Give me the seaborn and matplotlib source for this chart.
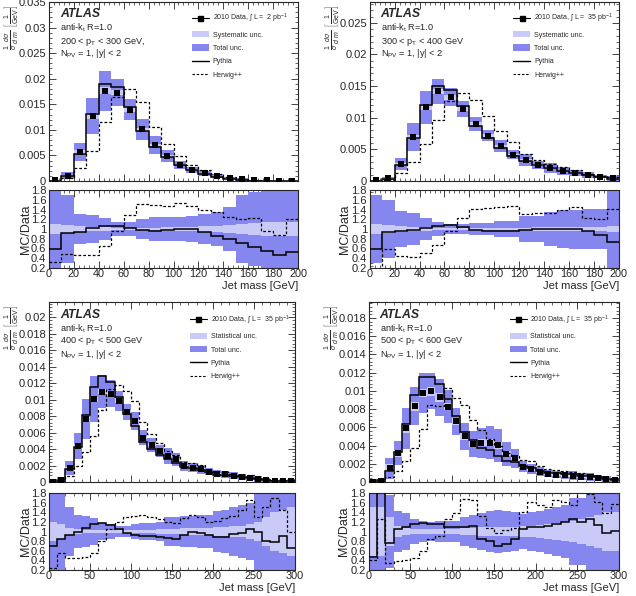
import numpy as np
import matplotlib
matplotlib.use("Agg")
import matplotlib.pyplot as plt
import seaborn as sns
from matplotlib.ticker import MultipleLocator, FuncFormatter
from matplotlib.patches import Patch
from matplotlib.lines import Line2D

# ---------------- data ----------------
bin_width = 10

# Panel 1: 200 < pT < 300 GeV
p1_data = [0.0001, 0.00105, 0.0057, 0.01266, 0.01765, 0.01726, 0.01398, 0.0101, 0.0071, 0.00486,
           0.0032, 0.00217, 0.0015, 0.001, 0.0006, 0.0003, 0.00015, 0.0001, 0.00005, 0.00005]
p1_pythia = [0.6, 0.92, 0.93, 1.03, 1.07, 1.06, 1.03, 0.97, 0.95, 0.97,
             0.99, 0.99, 0.94, 0.86, 0.8, 0.72, 0.64, 0.55, 0.47, 0.52]
p1_herwig = [0.33, 0.48, 0.46, 0.47, 0.65, 0.95, 1.28, 1.52, 1.5, 1.48,
             1.53, 1.48, 1.4, 1.35, 1.25, 1.2, 1.22, 0.95, 0.87, 1.2]
p1_total = [0.9, 0.7, 0.3, 0.28, 0.22, 0.15, 0.15, 0.2, 0.25, 0.25,
            0.25, 0.27, 0.3, 0.35, 0.45, 0.7, 0.75, 0.8, 0.8, 0.8]
p1_light = [0.1, 0.08, 0.06, 0.05, 0.04, 0.03, 0.03, 0.03, 0.03, 0.04,
            0.05, 0.05, 0.06, 0.07, 0.08, 0.1, 0.12, 0.15, 0.15, 0.15]

# Panel 2: 300 < pT < 400 GeV
p2_data = [0.0001, 0.0004, 0.0027, 0.00698, 0.01163, 0.01417, 0.01327, 0.01136, 0.00899, 0.00719,
           0.0055, 0.00418, 0.00333, 0.00254, 0.00206, 0.00159, 0.00122, 0.00095, 0.0007, 0.0004]
p2_pythia = [0.6, 0.93, 0.95, 0.98, 1.03, 1.06, 1.09, 1.05, 0.97, 0.95,
             0.95, 0.95, 0.97, 0.99, 1.0, 1.0, 1.0, 0.95, 0.88, 0.74]
p2_herwig = [0.1, 0.58, 0.44, 0.42, 0.5, 0.68, 0.95, 1.22, 1.42, 1.43,
             1.45, 1.47, 1.3, 1.33, 1.33, 1.38, 1.45, 1.22, 1.2, 1.42]
p2_total = [0.7, 0.6, 0.36, 0.32, 0.22, 0.14, 0.11, 0.11, 0.12, 0.13,
            0.17, 0.17, 0.27, 0.27, 0.35, 0.38, 0.4, 0.42, 0.42, 0.9]
p2_light = [0.1, 0.08, 0.06, 0.05, 0.04, 0.03, 0.03, 0.03, 0.03, 0.03,
            0.03, 0.03, 0.03, 0.04, 0.04, 0.04, 0.05, 0.05, 0.05, 0.06]

# Panel 3: 400 < pT < 500 GeV
p3_data = [0.00002, 0.0003, 0.00166, 0.00437, 0.00761, 0.01004, 0.01097, 0.01073, 0.00984, 0.0085,
           0.00741, 0.00538, 0.0045, 0.00377, 0.00316, 0.00275, 0.00194, 0.00174, 0.00154, 0.00126,
           0.001, 0.00093, 0.00077, 0.00061, 0.00049, 0.0004, 0.00028, 0.00016, 0.0001, 0.0001]
p3_pythia = [0.7, 0.84, 0.92, 0.98, 1.07, 1.15, 1.17, 1.13, 1.05, 0.97,
             0.92, 0.9, 0.9, 0.88, 0.87, 0.85, 0.93, 0.98, 0.96, 0.92,
             0.88, 0.88, 0.94, 0.96, 1.06, 1.0, 0.8, 0.78, 0.9, 0.65]
p3_herwig = [0.25, 0.55, 0.45, 0.45, 0.48, 0.55, 0.8, 1.05, 1.2, 1.3,
             1.32, 1.35, 1.3, 1.25, 1.2, 1.17, 1.28, 1.35, 1.3, 1.2,
             1.22, 1.28, 1.33, 1.45, 1.65, 1.3, 1.5, 1.7, 1.45, 1.0]
p3_total = [0.9, 0.9, 0.5, 0.35, 0.32, 0.28, 0.18, 0.15, 0.12, 0.12,
            0.15, 0.17, 0.18, 0.2, 0.3, 0.3, 0.32, 0.33, 0.35, 0.35,
            0.42, 0.45, 0.5, 0.55, 0.6, 0.85, 0.85, 0.85, 0.85, 0.85]
p3_light = [0.2, 0.15, 0.08, 0.05, 0.04, 0.03, 0.03, 0.03, 0.03, 0.03,
            0.03, 0.04, 0.04, 0.05, 0.05, 0.06, 0.07, 0.07, 0.08, 0.08,
            0.09, 0.1, 0.12, 0.12, 0.15, 0.2, 0.3, 0.4, 0.45, 0.5]

# Panel 4: 500 < pT < 600 GeV
p4_data = [0.00004, 0.0001, 0.0015, 0.00315, 0.00587, 0.0083, 0.00976, 0.00995, 0.00929, 0.00826,
           0.00664, 0.005, 0.00414, 0.00433, 0.00433, 0.00403, 0.00312, 0.0026, 0.00169, 0.00139,
           0.00114, 0.00092, 0.00081, 0.00074, 0.0007, 0.00055, 0.00051, 0.00044, 0.00033, 0.00026]
p4_pythia = [0.47, 2.2, 0.77, 1.05, 1.09, 1.15, 1.18, 1.16, 1.16, 1.1,
             1.09, 1.1, 1.12, 0.85, 0.8, 0.7, 0.74, 0.85, 1.06, 1.09,
             1.09, 1.12, 1.16, 1.2, 1.25, 1.2, 1.27, 1.13, 0.97, 1.02]
p4_herwig = [0.4, 1.25, 0.35, 0.38, 0.4, 0.45, 0.6, 0.85, 0.9, 1.25,
             1.38, 1.68, 1.65, 1.33, 1.08, 0.97, 1.03, 1.08, 1.4, 1.62,
             1.55, 1.5, 1.66, 1.62, 1.55, 1.85, 1.78, 1.62, 1.38, 1.58]
p4_total = [0.9, 0.9, 0.75, 0.42, 0.38, 0.25, 0.22, 0.2, 0.22, 0.22,
            0.22, 0.3, 0.35, 0.38, 0.42, 0.45, 0.42, 0.4, 0.36, 0.4,
            0.42, 0.46, 0.5, 0.55, 0.7, 0.7, 0.85, 0.85, 0.85, 0.85]
p4_light = [0.5, 0.5, 0.3, 0.12, 0.08, 0.06, 0.05, 0.05, 0.05, 0.05,
            0.06, 0.07, 0.08, 0.09, 0.1, 0.1, 0.1, 0.1, 0.11, 0.12,
            0.13, 0.15, 0.17, 0.2, 0.22, 0.25, 0.3, 0.35, 0.4, 0.4]

p1_text = "200 < p$_\\mathrm{T}$ < 300 GeV,"
p2_text = "300 < p$_\\mathrm{T}$ < 400 GeV"
p3_text = "400 < p$_\\mathrm{T}$ < 500 GeV"
p4_text = "500 < p$_\\mathrm{T}$ < 600 GeV"
p1_lumi = "2010 Data, $\\int$ L =  2 pb$^{-1}$"
lumi35 = "2010 Data, $\\int$ L =  35 pb$^{-1}$"

# ---------------- style ----------------
sns.set_style("ticks")
plt.rcParams["font.family"] = ["Liberation Sans", "DejaVu Sans"]
plt.rcParams["mathtext.fontset"] = "custom"
plt.rcParams["mathtext.rm"] = "Liberation Sans"
plt.rcParams["mathtext.it"] = "Liberation Sans:italic"
plt.rcParams["mathtext.bf"] = "Liberation Sans:bold"
plt.rcParams["axes.linewidth"] = 0.8

DARK = "#8686ef"
LIGHT = "#cacaf8"
W, H = 636.0, 596.0

fig = plt.figure(figsize=(6.36, 5.96), dpi=100)


def rect(l, r, t, b):
    return [l / W, 1 - b / H, (r - l) / W, (b - t) / H]


fmt = FuncFormatter(lambda v, p: "%g" % round(v, 6))


def style_axis(a, xmaj, xmin):
    a.tick_params(which="both", direction="in", top=True, right=True, labelsize=8.0,
                  pad=2)
    a.tick_params(which="major", length=5, width=0.6)
    a.tick_params(which="minor", length=2.5, width=0.5)
    a.xaxis.set_major_locator(MultipleLocator(xmaj))
    a.xaxis.set_minor_locator(MultipleLocator(xmin))
    a.yaxis.set_major_formatter(fmt)
    a.xaxis.set_major_formatter(fmt)


def panel(mrect, rrect, xmax, xmaj, xmin, ytop, ymaj, data, pyr, hwr, tot, lt,
          ptxt, lumi, lightlab, leg_x, leg_y, txt_ys, ylab_x, rlab_x, xlab_y):
    data = np.asarray(data); pyr = np.asarray(pyr); hwr = np.asarray(hwr)
    tot = np.asarray(tot); lt = np.asarray(lt)
    edges = np.arange(0, xmax + bin_width, bin_width)
    centers = 0.5 * (edges[:-1] + edges[1:])

    ax = fig.add_axes(mrect)
    ax.stairs(data * (1 + tot), edges, baseline=data * (1 - tot), fill=True,
              color=DARK, lw=0, zorder=1)
    ax.stairs(data * (1 + lt), edges, baseline=data * (1 - lt), fill=True,
              color=LIGHT, lw=0, zorder=2)
    ax.stairs(data * pyr, edges, baseline=None, color="k", lw=1.1, zorder=3)
    ax.stairs(data * hwr, edges, baseline=None, color="k", lw=0.9,
              ls=(0, (2.2, 1.6)), zorder=3)
    sns.scatterplot(x=centers, y=data, marker="s", color="k", s=21, linewidth=0,
                    ax=ax, zorder=5, legend=False)
    ax.set_xlim(0, xmax)
    ax.set_ylim(0, ytop)
    style_axis(ax, xmaj, xmin)
    ax.yaxis.set_major_locator(MultipleLocator(ymaj))
    ax.yaxis.set_minor_locator(MultipleLocator(ymaj / 5))
    ax.tick_params(labelbottom=False)
    ax.set_ylabel(r"$\frac{1}{\sigma}\,\frac{d\sigma}{d\ m}\ \left[\frac{1}{\mathrm{GeV}}\right]$",
                  fontsize=7.2, loc="top")
    ax.yaxis.set_label_coords(ylab_x, 0.985)

    tx = 0.044
    ax.text(tx, txt_ys[0], "ATLAS", transform=ax.transAxes, fontsize=8.8,
            fontweight="bold", fontstyle="italic", va="center")
    ax.text(tx, txt_ys[1], "anti-k$_\\mathrm{t}$ R=1.0", transform=ax.transAxes,
            fontsize=6.6, va="center")
    ax.text(tx, txt_ys[2], ptxt, transform=ax.transAxes, fontsize=6.6, va="center")
    ax.text(tx, txt_ys[3], "N$_\\mathrm{PV}$ = 1, |y| < 2", transform=ax.transAxes,
            fontsize=6.6, va="center")

    handles = [Line2D([], [], color="k", marker="s", markersize=3.6, lw=0.8),
               Patch(facecolor=LIGHT, edgecolor="none"),
               Patch(facecolor=DARK, edgecolor="none"),
               Line2D([], [], color="k", lw=1.0),
               Line2D([], [], color="k", lw=0.8, ls=(0, (2.2, 1.6)))]
    labels = [lumi, lightlab, "Total unc.", "Pythia", "Herwig++"]
    ax.legend(handles, labels, loc="upper left", bbox_to_anchor=(leg_x, leg_y),
              frameon=False, fontsize=5.0, handlelength=2.45, handleheight=1.06,
              labelspacing=0.84, handletextpad=0.55, borderpad=0, borderaxespad=0)

    rx = fig.add_axes(rrect)
    rx.stairs(1 + tot, edges, baseline=1 - tot, fill=True, color=DARK, lw=0, zorder=1)
    rx.stairs(1 + lt, edges, baseline=1 - lt, fill=True, color=LIGHT, lw=0, zorder=2)
    rx.stairs(pyr, edges, baseline=None, color="k", lw=1.1, zorder=3)
    rx.stairs(hwr, edges, baseline=None, color="k", lw=0.9, ls=(0, (2.2, 1.6)), zorder=3)
    rx.set_xlim(0, xmax)
    rx.set_ylim(0.2, 1.8)
    style_axis(rx, xmaj, xmin)
    rx.yaxis.set_major_locator(MultipleLocator(0.2))
    rx.yaxis.set_minor_locator(MultipleLocator(0.05))
    rx.tick_params(axis="x", pad=0.5, labelsize=7.8)
    rx.set_ylabel("MC/Data", fontsize=9)
    rx.yaxis.set_label_coords(rlab_x, 0.5)
    rx.set_xlabel("Jet mass [GeV]", fontsize=8.0, ha="right", va="top")
    rx.xaxis.set_label_coords(1.0, xlab_y)
    return ax, rx


panel(rect(49, 298, 2, 181), rect(49, 298, 190, 268), 200, 20, 4, 0.035, 0.005,
      p1_data, p1_pythia, p1_herwig, p1_total, p1_light, p1_text, p1_lumi,
      "Systematic unc.", 0.574, 0.945, [0.933, 0.855, 0.777, 0.712], -0.111, -0.068, -0.168)

panel(rect(369.7, 619, 2, 181), rect(369.7, 619, 190, 268), 200, 20, 4, 0.0283, 0.005,
      p2_data, p2_pythia, p2_herwig, p2_total, p2_light, p2_text, lumi35,
      "Systematic unc.", 0.575, 0.945, [0.933, 0.855, 0.777, 0.712], -0.111, -0.075, -0.168)

panel(rect(49, 295, 301.5, 482), rect(49, 295, 493, 570), 300, 50, 10, 0.0219, 0.002,
      p3_data, p3_pythia, p3_herwig, p3_total, p3_light, p3_text, lumi35,
      "Statistical unc.", 0.573, 0.934, [0.925, 0.85, 0.78, 0.706], -0.113, -0.069, -0.168)

panel(rect(368.7, 619, 301.5, 482), rect(368.7, 619, 493, 570), 300, 50, 10, 0.0198, 0.002,
      p4_data, p4_pythia, p4_herwig, p4_total, p4_light, p4_text, lumi35,
      "Statistical unc.", 0.563, 0.934, [0.925, 0.85, 0.78, 0.706], -0.111, -0.075, -0.168)

fig.savefig("out.png", dpi=100)
